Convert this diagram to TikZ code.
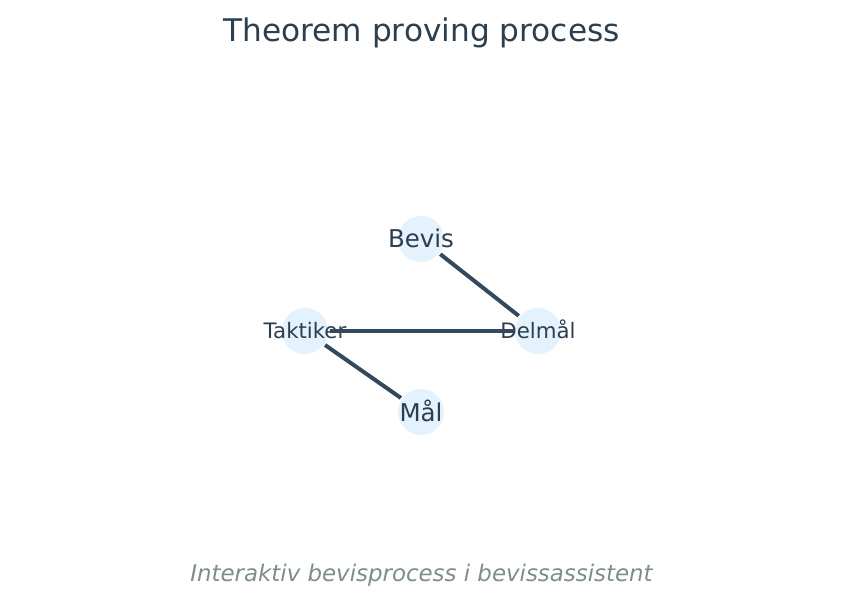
\documentclass[tikz,border=0pt]{standalone}
\usepackage{fontspec}
\setmainfont{DejaVu Sans}
\definecolor{titlecol}{HTML}{2C3E50}
\definecolor{edgecol}{HTML}{34495E}
\definecolor{nodefill}{HTML}{E3F2FD}
\definecolor{capcol}{HTML}{7F8C8D}
\begin{document}
\begin{tikzpicture}[x=1pt,y=-1pt,
  dot/.style={circle,fill=nodefill,draw=none,minimum size=46pt,inner sep=0pt,outer sep=1.5pt},
  biglab/.style={anchor=base,text=titlecol,font=\fontsize{24.5}{24.5}\selectfont,inner sep=0pt},
  smalllab/.style={anchor=base,text=titlecol,font=\fontsize{21.3}{21.3}\selectfont,inner sep=0pt},
  link/.style={draw=edgecol,line width=4pt}]
\useasboundingbox (0,0) rectangle (843,607);
\node[anchor=base,text=titlecol,font=\fontsize{31.2}{31.2}\selectfont,inner sep=0pt] (title) at (421.5,41.7) {Theorem proving process};
\node[anchor=base,text=capcol,font=\itshape\fontsize{22.9}{22.9}\selectfont,inner sep=0pt] (cap) at (421.5,581.5) {Interaktiv bevisprocess i bevissassistent};
\node[dot] (bevis) at (421,239) {};
\node[dot] (delmal) at (538,331) {};
\node[dot] (taktiker) at (305,331) {};
\node[dot] (mal) at (421,412) {};
\node[biglab] (tbevis) at (421,247.5) {Bevis};
\node[smalllab] (tdelmal) at (538,338.5) {Delmål};
\node[smalllab] (ttaktiker) at (305,338.5) {Taktiker};
\node[biglab] (tmal) at (421,421) {Mål};
\draw[link] (bevis) -- (delmal);
\draw[link] (taktiker) -- (delmal);
\draw[link] (taktiker) -- (mal);
\end{tikzpicture}
\end{document}
